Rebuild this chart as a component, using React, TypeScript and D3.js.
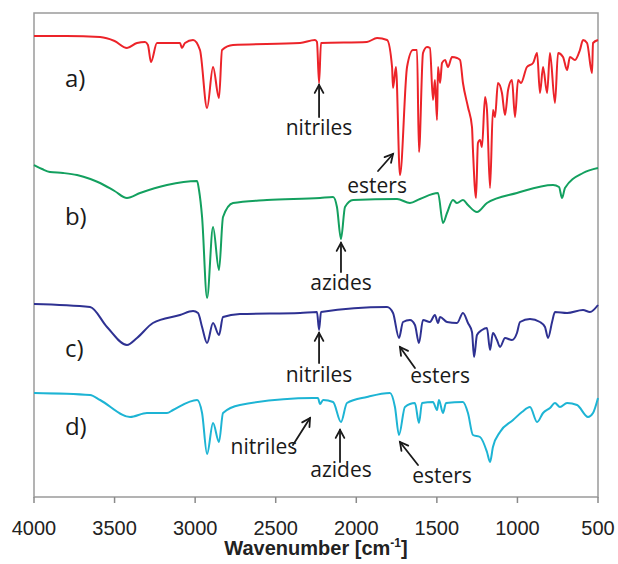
import React from "react";
import * as d3 from "d3";

type Pt = [number, number];

// Wavenumber (cm-1), transmittance (arbitrary, offset units)
const spectrumA: Pt[] = [
  [4000, 115.25], [3800, 115.25], [3590, 115], [3500, 114], [3423, 112.25], [3361, 113.5], [3311, 113.75], [3293, 113],
  [3274, 108.75], [3237, 113.5], [3094, 113.5], [3082, 112.25], [3063, 113.5], [3013, 114.25],
  [2970, 111.75], [2926, 97.25], [2889, 107.5], [2852, 99.75], [2833, 111.75], [2765, 113],
  [2349, 113.5], [2256, 114.25], [2244, 113.75], [2231, 103.5], [2219, 113.5], [1934, 113.75],
  [1871, 114.75], [1809, 114.25], [1778, 107.5], [1772, 102.25], [1754, 107.5], [1729, 80.5],
  [1685, 107.5], [1648, 111.75], [1623, 111.75], [1611, 86.25], [1586, 111], [1561, 112.5],
  [1543, 112.25], [1524, 99.25], [1512, 104.25], [1499, 94.25], [1493, 107.5], [1480, 103.5],
  [1468, 108.5], [1449, 109.25], [1431, 107.5], [1406, 110], [1375, 109.75], [1356, 109.25],
  [1338, 103.5], [1307, 97.5], [1282, 92.5], [1276, 86.75], [1257, 74.75], [1245, 88.5],
  [1232, 89.25], [1220, 87.5], [1201, 100], [1189, 96.75], [1170, 77.25], [1152, 96.75],
  [1139, 95], [1121, 103.5], [1096, 101], [1077, 95.5], [1058, 101.75], [1034, 104.25],
  [1015, 95], [996, 104.25], [978, 103.5], [941, 107.5], [903, 108.5], [878, 111],
  [860, 101], [841, 107.5], [816, 101], [798, 111], [767, 98.5], [748, 111], [717, 110],
  [692, 106.75], [674, 110], [643, 109.25], [612, 111.75], [593, 114.25], [568, 113.5],
  [537, 106], [531, 113.5], [500, 114.25],
];

const spectrumB: Pt[] = [
  [4000, 83], [3950, 82], [3901, 81.25], [3820, 81], [3733, 80.5], [3650, 79.5], [3590, 78.5],
  [3500, 76.5], [3423, 74.75], [3342, 76], [3175, 78], [2988, 79], [2976, 76.75], [2957, 70],
  [2926, 49.75], [2889, 67.5], [2852, 56.75], [2827, 70], [2765, 73.5], [2554, 74.25],
  [2225, 74.75], [2144, 75], [2120, 72.5], [2095, 64.5], [2070, 72.5], [2020, 74.25],
  [1747, 74.5], [1667, 73.5], [1605, 74.5], [1493, 76], [1462, 68.5], [1437, 71], [1400, 74.25],
  [1375, 73.5], [1338, 74.25], [1307, 73], [1251, 71.25], [1189, 73.5], [1003, 76], [779, 78],
  [742, 77.5], [723, 74.75], [705, 77.25], [593, 81], [500, 82.25],
];

const spectrumC: Pt[] = [
  [4000, 48.25], [3652, 47.5], [3547, 42.5], [3423, 38], [3361, 39.75], [3262, 43.5],
  [3094, 45.5], [3013, 46.5], [2982, 46], [2957, 42.5], [2926, 38.5], [2889, 43.5],
  [2852, 40.5], [2827, 45], [2722, 45.75], [2349, 46], [2244, 46.25], [2231, 41.75],
  [2219, 46.25], [1809, 47.5], [1772, 46], [1735, 39.75], [1710, 43.75], [1667, 44.25],
  [1636, 43], [1611, 38.5], [1586, 44.25], [1543, 43.75], [1512, 45.5], [1493, 43.5],
  [1480, 45], [1437, 43.75], [1375, 43.5], [1338, 46], [1307, 43.5], [1282, 41.25],
  [1269, 35], [1251, 40.5], [1220, 41.75], [1189, 42.25], [1170, 36.75], [1152, 41],
  [1127, 39.25], [1108, 37.5], [1077, 39.75], [1034, 39.25], [1003, 41], [984, 43.75],
  [922, 44.5], [860, 43.75], [829, 42.5], [810, 39.75], [785, 43.75], [767, 46.25],
  [692, 46], [593, 46.75], [550, 46.25], [500, 48],
];

const spectrumD: Pt[] = [
  [4000, 26], [3652, 25.5], [3590, 24.25], [3404, 20], [3299, 21], [3175, 21], [3137, 21.75],
  [2988, 24.25], [2957, 21], [2926, 10.75], [2889, 18.5], [2852, 13.75], [2827, 21],
  [2722, 23], [2269, 24.75], [2238, 24.75], [2225, 23.25], [2206, 24.25], [2144, 23.75],
  [2095, 18.75], [2058, 23.5], [1934, 25], [1791, 26], [1760, 22.5], [1735, 15.5],
  [1698, 22.5], [1636, 23.5], [1611, 18.5], [1592, 23.5], [1524, 23.75], [1499, 21.75],
  [1487, 24.25], [1462, 21], [1443, 23.5], [1338, 23.75], [1307, 21], [1276, 15.5],
  [1232, 15], [1189, 11.25], [1170, 8.75], [1152, 12.5], [1108, 16.25], [1027, 19.25],
  [972, 21.25], [922, 22.5], [878, 18.75], [841, 21], [798, 22.25], [767, 23.5],
  [736, 22.5], [692, 23.5], [630, 23], [562, 20], [531, 21], [500, 24.75],
];

const seriesNames = ["a)", "b)", "c)", "d)"];
const seriesLabelT = [102.5, 68, 35, 15.5];
const xTicks = [4000, 3500, 3000, 2500, 2000, 1500, 1000, 500];

// annotation: label, text wn, text T, arrow tail [wn,T], arrow tip [wn,T]
const annLabels = ["nitriles", "esters", "azides", "nitriles", "esters", "nitriles", "azides", "esters"];
const annText: Pt[] = [[2231, 90.5], [1871, 76], [2095, 51.75], [2231, 28.75], [1480, 28.5], [2573, 10.75], [2095, 5], [1468, 3.5]];
const annTail: Pt[] = [[2231, 95], [1865, 81.5], [2095, 56.25], [2231, 33.5], [1636, 32.25], [2393, 13], [2101, 8.75], [1617, 8]];
const annTip: Pt[] = [[2231, 103], [1772, 85.75], [2095, 63.5], [2231, 41], [1729, 37.5], [2287, 19.75], [2101, 16.75], [1729, 13.75]];

const colors = ["#ec2329", "#13a05f", "#2e3192", "#1db4d4"];

const W = 618, H = 564;
const M = { left: 34, top: 13, right: 20, bottom: 67 };

export default function App() {
  const x = d3.scaleLinear().domain([4000, 500]).range([M.left, W - M.right]);
  const y = d3.scaleLinear().domain([0, 121]).range([H - M.bottom, M.top]);
  const line = d3.line<Pt>().x((d) => x(d[0])).y((d) => y(d[1])).curve(d3.curveMonotoneX);
  const data = [spectrumA, spectrumB, spectrumC, spectrumD];
  const textFont = "'Open Sans', sans-serif";

  const arrow = (t: Pt, h: Pt, i: number) => {
    const x1 = x(t[0]), y1 = y(t[1]), x2 = x(h[0]), y2 = y(h[1]);
    const ang = Math.atan2(y2 - y1, x2 - x1);
    const L = 9, a = 0.5;
    const p1 = [x2 - L * Math.cos(ang - a), y2 - L * Math.sin(ang - a)];
    const p2 = [x2 - L * Math.cos(ang + a), y2 - L * Math.sin(ang + a)];
    return (
      <g key={"ar" + i} stroke="#1a1a1a" strokeWidth={1.8} fill="none" strokeLinecap="round">
        <line x1={x1} y1={y1} x2={x2} y2={y2} />
        <polyline points={`${p1[0]},${p1[1]} ${x2},${y2} ${p2[0]},${p2[1]}`} />
      </g>
    );
  };

  return (
    <svg width={W} height={H} style={{ position: "absolute", left: 0, top: 0, background: "#fff" }}>
      <rect x={M.left} y={M.top} width={W - M.left - M.right} height={H - M.top - M.bottom}
        fill="none" stroke="#9a9a9a" strokeWidth={1.5} />
      {xTicks.map((t) => (
        <g key={t}>
          <line x1={x(t)} x2={x(t)} y1={y(0)} y2={y(0) + 6} stroke="#8a8a8a" strokeWidth={1.5} />
          <text x={x(t)} y={y(0) + 38} textAnchor="middle" fontFamily="'Liberation Sans', Arial, sans-serif"
            fontSize={20} fill="#222">{t}</text>
        </g>
      ))}
      <text x={(M.left + W - M.right) / 2} y={H - 9} textAnchor="middle"
        fontFamily="'Liberation Sans', Arial, sans-serif" fontWeight="bold" fontSize={20} fill="#222">
        Wavenumber [cm<tspan fontSize={12} dy={-8}>-1</tspan><tspan dy={8}>]</tspan>
      </text>
      {data.map((d, i) => (
        <path key={i} d={line(d) || ""} fill="none" stroke={colors[i]} strokeWidth={2} strokeLinejoin="round" />
      ))}
      {seriesNames.map((n, i) => (
        <text key={n} x={x(3808)} y={y(seriesLabelT[i])} fontFamily={textFont} fontSize={24} fill="#1a1a1a">{n}</text>
      ))}
      {annLabels.map((l, i) => (
        <g key={"an" + i}>
          <text x={x(annText[i][0])} y={y(annText[i][1])} textAnchor="middle" fontFamily={textFont}
            fontSize={21} fill="#1a1a1a">{l}</text>
          {arrow(annTail[i], annTip[i], i)}
        </g>
      ))}
    </svg>
  );
}
